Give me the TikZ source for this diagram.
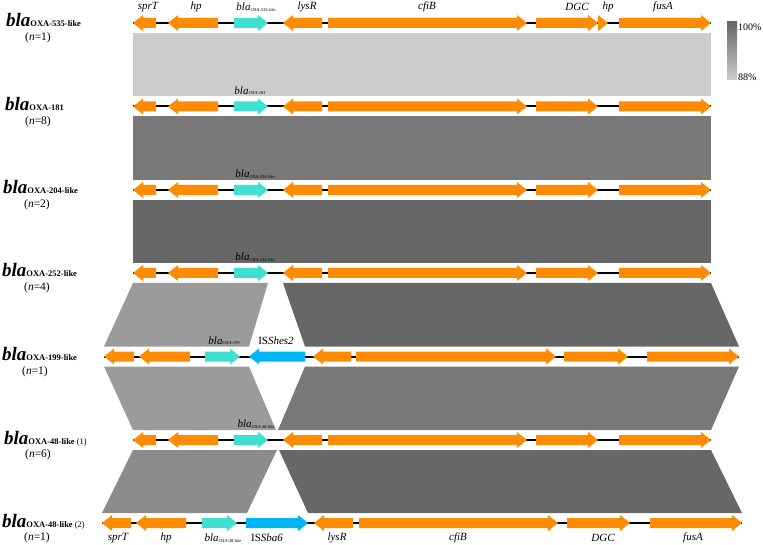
\documentclass[tikz,border=0pt]{standalone}
\usepackage{fontspec}
\setmainfont{Liberation Serif}

\definecolor{orfcol}{RGB}{255,140,0}
\definecolor{blacol}{RGB}{64,224,208}
\definecolor{iscol}{RGB}{0,180,245}
\definecolor{idhi}{RGB}{103,103,103}
\definecolor{idmid}{RGB}{120,120,120}
\definecolor{idlow}{RGB}{155,155,155}
\definecolor{idlow2}{RGB}{140,140,140}
\definecolor{idmin}{RGB}{204,204,204}

%gene arrows: left x, right x, row y, style
\newcommand{\gener}[4]{\fill[#4] (#1,#3-5) -- (#2-10,#3-5) -- (#2-10,#3-8) -- (#2,#3) -- (#2-10,#3+8) -- (#2-10,#3+5) -- (#1,#3+5) -- cycle;}
\newcommand{\genel}[4]{\fill[#4] (#2,#3-5) -- (#1+10,#3-5) -- (#1+10,#3-8) -- (#1,#3) -- (#1+10,#3+8) -- (#1+10,#3+5) -- (#2,#3+5) -- cycle;}
%label of a bla gene inside a track
\newcommand{\blalab}[1]{\textit{bla}\raisebox{-0.5pt}{\fontsize{4.5}{5}\selectfont #1}}
%label of a row at the left
\newcommand{\rowlab}[2]{\fontsize{19}{19}\selectfont\bfseries\itshape bla\upshape\fontsize{8.5}{9}\selectfont #1\mdseries #2}

\begin{document}
\begin{tikzpicture}[x=1pt,y=-1pt,
    orf/.style={fill=orfcol},
    bla/.style={fill=blacol},
    ise/.style={fill=iscol},
    bb/.style={line width=2pt},
    glab/.style={font=\fontsize{11}{11}\selectfont\itshape, inner sep=0pt},
    nlab/.style={font=\fontsize{11.5}{12}\selectfont, inner sep=0pt},
    scalelab/.style={font=\fontsize{10}{10}\selectfont, inner sep=0pt, anchor=west}]

    \useasboundingbox (0,0) rectangle (763,545);

    %row heights
    \def\rA{23}
    \def\rB{106.5}
    \def\rC{190}
    \def\rD{273}
    \def\rE{356.5}
    \def\rF{440}
    \def\rG{523}

    %identity blocks between the rows
    \fill[idmin] (133,33) rectangle (711,96.5);
    \fill[idmid] (133,116.5) rectangle (711,180);
    \fill[idhi] (133,200) rectangle (711,263);
    \fill[idlow] (133,283) -- (268,283) -- (249,346.5) -- (104,346.5) -- cycle;
    \fill[idhi] (283,283) -- (711,283) -- (739,346.5) -- (305,346.5) -- cycle;
    \fill[idlow] (104,366.5) -- (249,366.5) -- (276,430) -- (133,430) -- cycle;
    \fill[idmid] (305,366.5) -- (739,366.5) -- (711,430) -- (278,430) -- cycle;
    \fill[idlow2] (133,450) -- (277,450) -- (247,513) -- (102,513) -- cycle;
    \fill[idhi] (279,450) -- (711,450) -- (742,513) -- (308,513) -- cycle;

    %rows with the same layout
    \foreach \r in {\rA,\rB,\rC,\rD,\rF} {
        \draw[bb] (133,\r) -- (711,\r);
        \genel{133}{156}{\r}{orf}
        \genel{168}{218}{\r}{orf}
        \gener{234}{268}{\r}{bla}
        \genel{283}{322}{\r}{orf}
        \gener{328}{527}{\r}{orf}
        \gener{536}{598}{\r}{orf}
        \gener{619}{711}{\r}{orf}
    }
    %small hp only in the first row
    \gener{598}{608}{\rA}{orf}

    %row with ISShes2
    \draw[bb] (104,\rE) -- (739,\rE);
    \genel{104}{134}{\rE}{orf}
    \genel{139}{190}{\rE}{orf}
    \gener{205}{240}{\rE}{bla}
    \genel{249}{305}{\rE}{ise}
    \genel{313}{351}{\rE}{orf}
    \gener{356}{556}{\rE}{orf}
    \gener{564}{628}{\rE}{orf}
    \gener{647}{739}{\rE}{orf}

    %row with ISSba6
    \draw[bb] (102,\rG) -- (742,\rG);
    \genel{102}{131}{\rG}{orf}
    \genel{136}{186}{\rG}{orf}
    \gener{202}{237}{\rG}{bla}
    \gener{246}{308}{\rG}{ise}
    \genel{314}{353}{\rG}{orf}
    \gener{359}{558}{\rG}{orf}
    \gener{567}{630}{\rG}{orf}
    \gener{650}{742}{\rG}{orf}

    %gene names on top
    \node[glab] (sprTa) at (148,7) {sprT};
    \node[glab] (hpa) at (196,7) {hp};
    \node[glab] (blaa) at (256,7) {\blalab{OXA-535-like}};
    \node[glab] (lysRa) at (307,7) {lysR};
    \node[glab] (cfiBa) at (427,7) {cfiB};
    \node[glab] (DGCa) at (577,7) {DGC};
    \node[glab] (hpb) at (608,7) {hp};
    \node[glab] (fusAa) at (663,7) {fusA};

    %bla names in the middle rows
    \node[glab] (blab) at (250,\rB-16) {\blalab{OXA-181}};
    \node[glab] (blac) at (255,\rC-16) {\blalab{OXA-204-like}};
    \node[glab] (blad) at (255,\rD-16) {\blalab{OXA-252-like}};
    \node[glab] (blae) at (224,\rE-16) {\blalab{OXA-199}};
    \node[glab] (ise) at (276,\rE-16) {\upshape IS\textit{Shes2}};
    \node[glab] (blaf) at (256,\rF-16) {\blalab{OXA-48-like}};

    %gene names at the bottom
    \node[glab] (sprTg) at (118,538) {sprT};
    \node[glab] (hpg) at (166,538) {hp};
    \node[glab] (blag) at (223,538) {\blalab{OXA-48-like}};
    \node[glab] (isg) at (267,538) {\upshape IS\textit{Sba6}};
    \node[glab] (lysRg) at (337,538) {lysR};
    \node[glab] (cfiBg) at (458,538) {cfiB};
    \node[glab] (DGCg) at (603,538) {DGC};
    \node[glab] (fusAg) at (693,538) {fusA};

    %row names
    \node[anchor=base west, inner sep=0pt] (rowa) at (6,\rA+4) {\rowlab{OXA-535-like}{}};
    \node[anchor=base west, inner sep=0pt] (rowb) at (5,\rB+4) {\rowlab{OXA-181}{}};
    \node[anchor=base west, inner sep=0pt] (rowc) at (3,\rC+4) {\rowlab{OXA-204-like}{}};
    \node[anchor=base west, inner sep=0pt] (rowd) at (2,\rD+4) {\rowlab{OXA-252-like}{}};
    \node[anchor=base west, inner sep=0pt] (rowe) at (2,\rE+4) {\rowlab{OXA-199-like}{}};
    \node[anchor=base west, inner sep=0pt] (rowf) at (4,\rF+4) {\rowlab{OXA-48-like}{ (1)}};
    \node[anchor=base west, inner sep=0pt] (rowg) at (2,\rG+4) {\rowlab{OXA-48-like}{ (2)}};

    \node[nlab] (na) at (38,\rA+15) {(\textit{n}=1)};
    \node[nlab] (nb) at (38,\rB+15) {(\textit{n}=8)};
    \node[nlab] (nc) at (37,\rC+15) {(\textit{n}=2)};
    \node[nlab] (nd) at (37,\rD+15) {(\textit{n}=4)};
    \node[nlab] (ne) at (35,\rE+15) {(\textit{n}=1)};
    \node[nlab] (nf) at (38,\rF+15) {(\textit{n}=6)};
    \node[nlab] (ng) at (37,\rG+15) {(\textit{n}=1)};

    %identity scale
    \shade[top color=idhi, bottom color=idmin] (727,22) rectangle (737,80);
    \node[scalelab] (hundred) at (738,27) {100\%};
    \node[scalelab] (eightyeight) at (738,77) {88\%};

\end{tikzpicture}
\end{document}
